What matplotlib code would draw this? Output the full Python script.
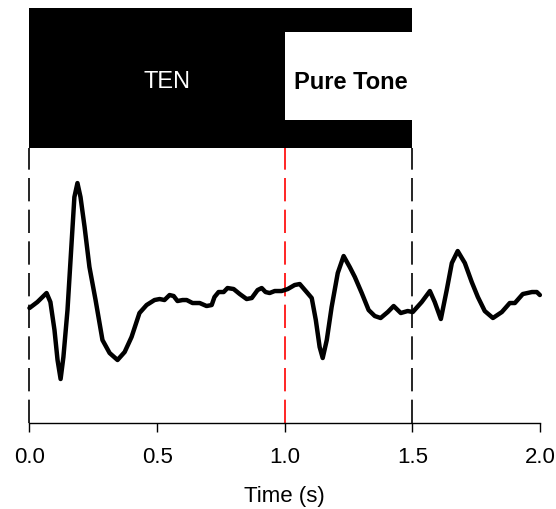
import numpy as np
import matplotlib
matplotlib.use('Agg')
import matplotlib.pyplot as plt
from matplotlib.patches import Rectangle

plt.rcParams['font.family'] = ['Liberation Sans', 'DejaVu Sans']

# waveform (time in s, amplitude in arbitrary units)
t = [0.0, 0.031, 0.067, 0.082, 0.098, 0.110, 0.122, 0.133, 0.149, 0.165,
     0.176, 0.188, 0.200, 0.216, 0.235, 0.259, 0.286, 0.314, 0.345, 0.373,
     0.400, 0.431, 0.459, 0.490, 0.510, 0.529, 0.549, 0.565, 0.580, 0.600,
     0.616, 0.639, 0.667, 0.694, 0.714, 0.725, 0.741, 0.761, 0.776, 0.800,
     0.824, 0.851, 0.871, 0.894, 0.910, 0.925, 0.941, 0.961, 0.988, 1.012,
     1.039, 1.059, 1.086, 1.106, 1.122, 1.137, 1.149, 1.165, 1.184, 1.208,
     1.231, 1.255, 1.275, 1.302, 1.329, 1.353, 1.376, 1.404, 1.427, 1.455,
     1.482, 1.502, 1.537, 1.569, 1.588, 1.612, 1.635, 1.655, 1.678, 1.706,
     1.733, 1.757, 1.784, 1.816, 1.851, 1.882, 1.902, 1.933, 1.969, 1.988,
     2.0]
amp = [-0.8, -0.2, 0.7, -0.2, -3.0, -6.0, -7.9, -5.7, -1.0, 5.7,
       10.3, 11.7, 10.3, 7.3, 3.3, 0.0, -4.0, -5.3, -6.0, -5.2,
       -3.7, -1.3, -0.5, 0.0, 0.1, 0.0, 0.5, 0.4, -0.1, 0.0,
       0.0, -0.3, -0.3, -0.6, -0.5, 0.3, 0.8, 0.8, 1.2, 1.1,
       0.6, 0.1, 0.2, 1.0, 1.2, 0.8, 0.7, 0.9, 0.9, 1.1,
       1.5, 1.6, 0.8, 0.2, -2.0, -4.7, -5.8, -4.0, -0.7, 2.7,
       4.4, 3.3, 2.3, 0.7, -1.0, -1.6, -1.8, -1.2, -0.6, -1.3,
       -1.1, -1.2, -0.2, 0.9, -0.2, -1.9, 1.0, 3.7, 4.9, 3.7,
       1.8, 0.3, -1.1, -1.8, -1.2, -0.3, -0.3, 0.6, 0.8, 0.8,
       0.5]

# stimulus blocks
stim_labels = ['TEN', 'Pure Tone']
stim_start = [0.0, 1.0]
stim_end = [1.5, 1.5]
markers = [0.0, 1.0, 1.5]
marker_colors = ['black', 'red', 'black']

ymin, ymax = -12.3, 29.2
box_bot, box_top = 15.2, 29.2
tone_bot, tone_top = 18.0, 26.8

fig = plt.figure(figsize=(5.56, 5.09), dpi=100)
ax = fig.add_axes([0.053, 0.169, 0.918, 0.815])

ax.add_patch(Rectangle((stim_start[0], box_bot), stim_end[0] - stim_start[0],
                       box_top - box_bot, facecolor='black', edgecolor='none'))
ax.add_patch(Rectangle((stim_start[1], tone_bot), stim_end[1] - stim_start[1],
                       tone_top - tone_bot, facecolor='white', edgecolor='none'))
ax.text(0.54, 21.8, stim_labels[0], color='white', fontsize=17,
        ha='center', va='center')
ax.text(1.26, 21.8, stim_labels[1], color='black', fontsize=17,
        fontweight='bold', ha='center', va='center')

for x, c in zip(markers, marker_colors):
    ax.plot([x, x], [ymin, box_bot], color=c, lw=1.2,
            linestyle=(0, (14, 5)), clip_on=False)

ax.plot(t, amp, color='black', lw=3.2, solid_joinstyle='round',
        solid_capstyle='round', clip_on=False)

ax.set_xlim(0, 2)
ax.set_ylim(ymin, ymax)
ax.set_xticks([0.0, 0.5, 1.0, 1.5, 2.0])
ax.set_xticklabels(['0.0', '0.5', '1.0', '1.5', '2.0'])
ax.set_yticks([])
for s in ['top', 'right', 'left']:
    ax.spines[s].set_visible(False)
ax.spines['bottom'].set_linewidth(1.0)
ax.tick_params(axis='x', direction='out', length=6.5, width=1.0,
               labelsize=16, pad=11)
ax.set_xlabel('Time (s)', fontsize=16, labelpad=13)

fig.savefig('out.png', dpi=100)
